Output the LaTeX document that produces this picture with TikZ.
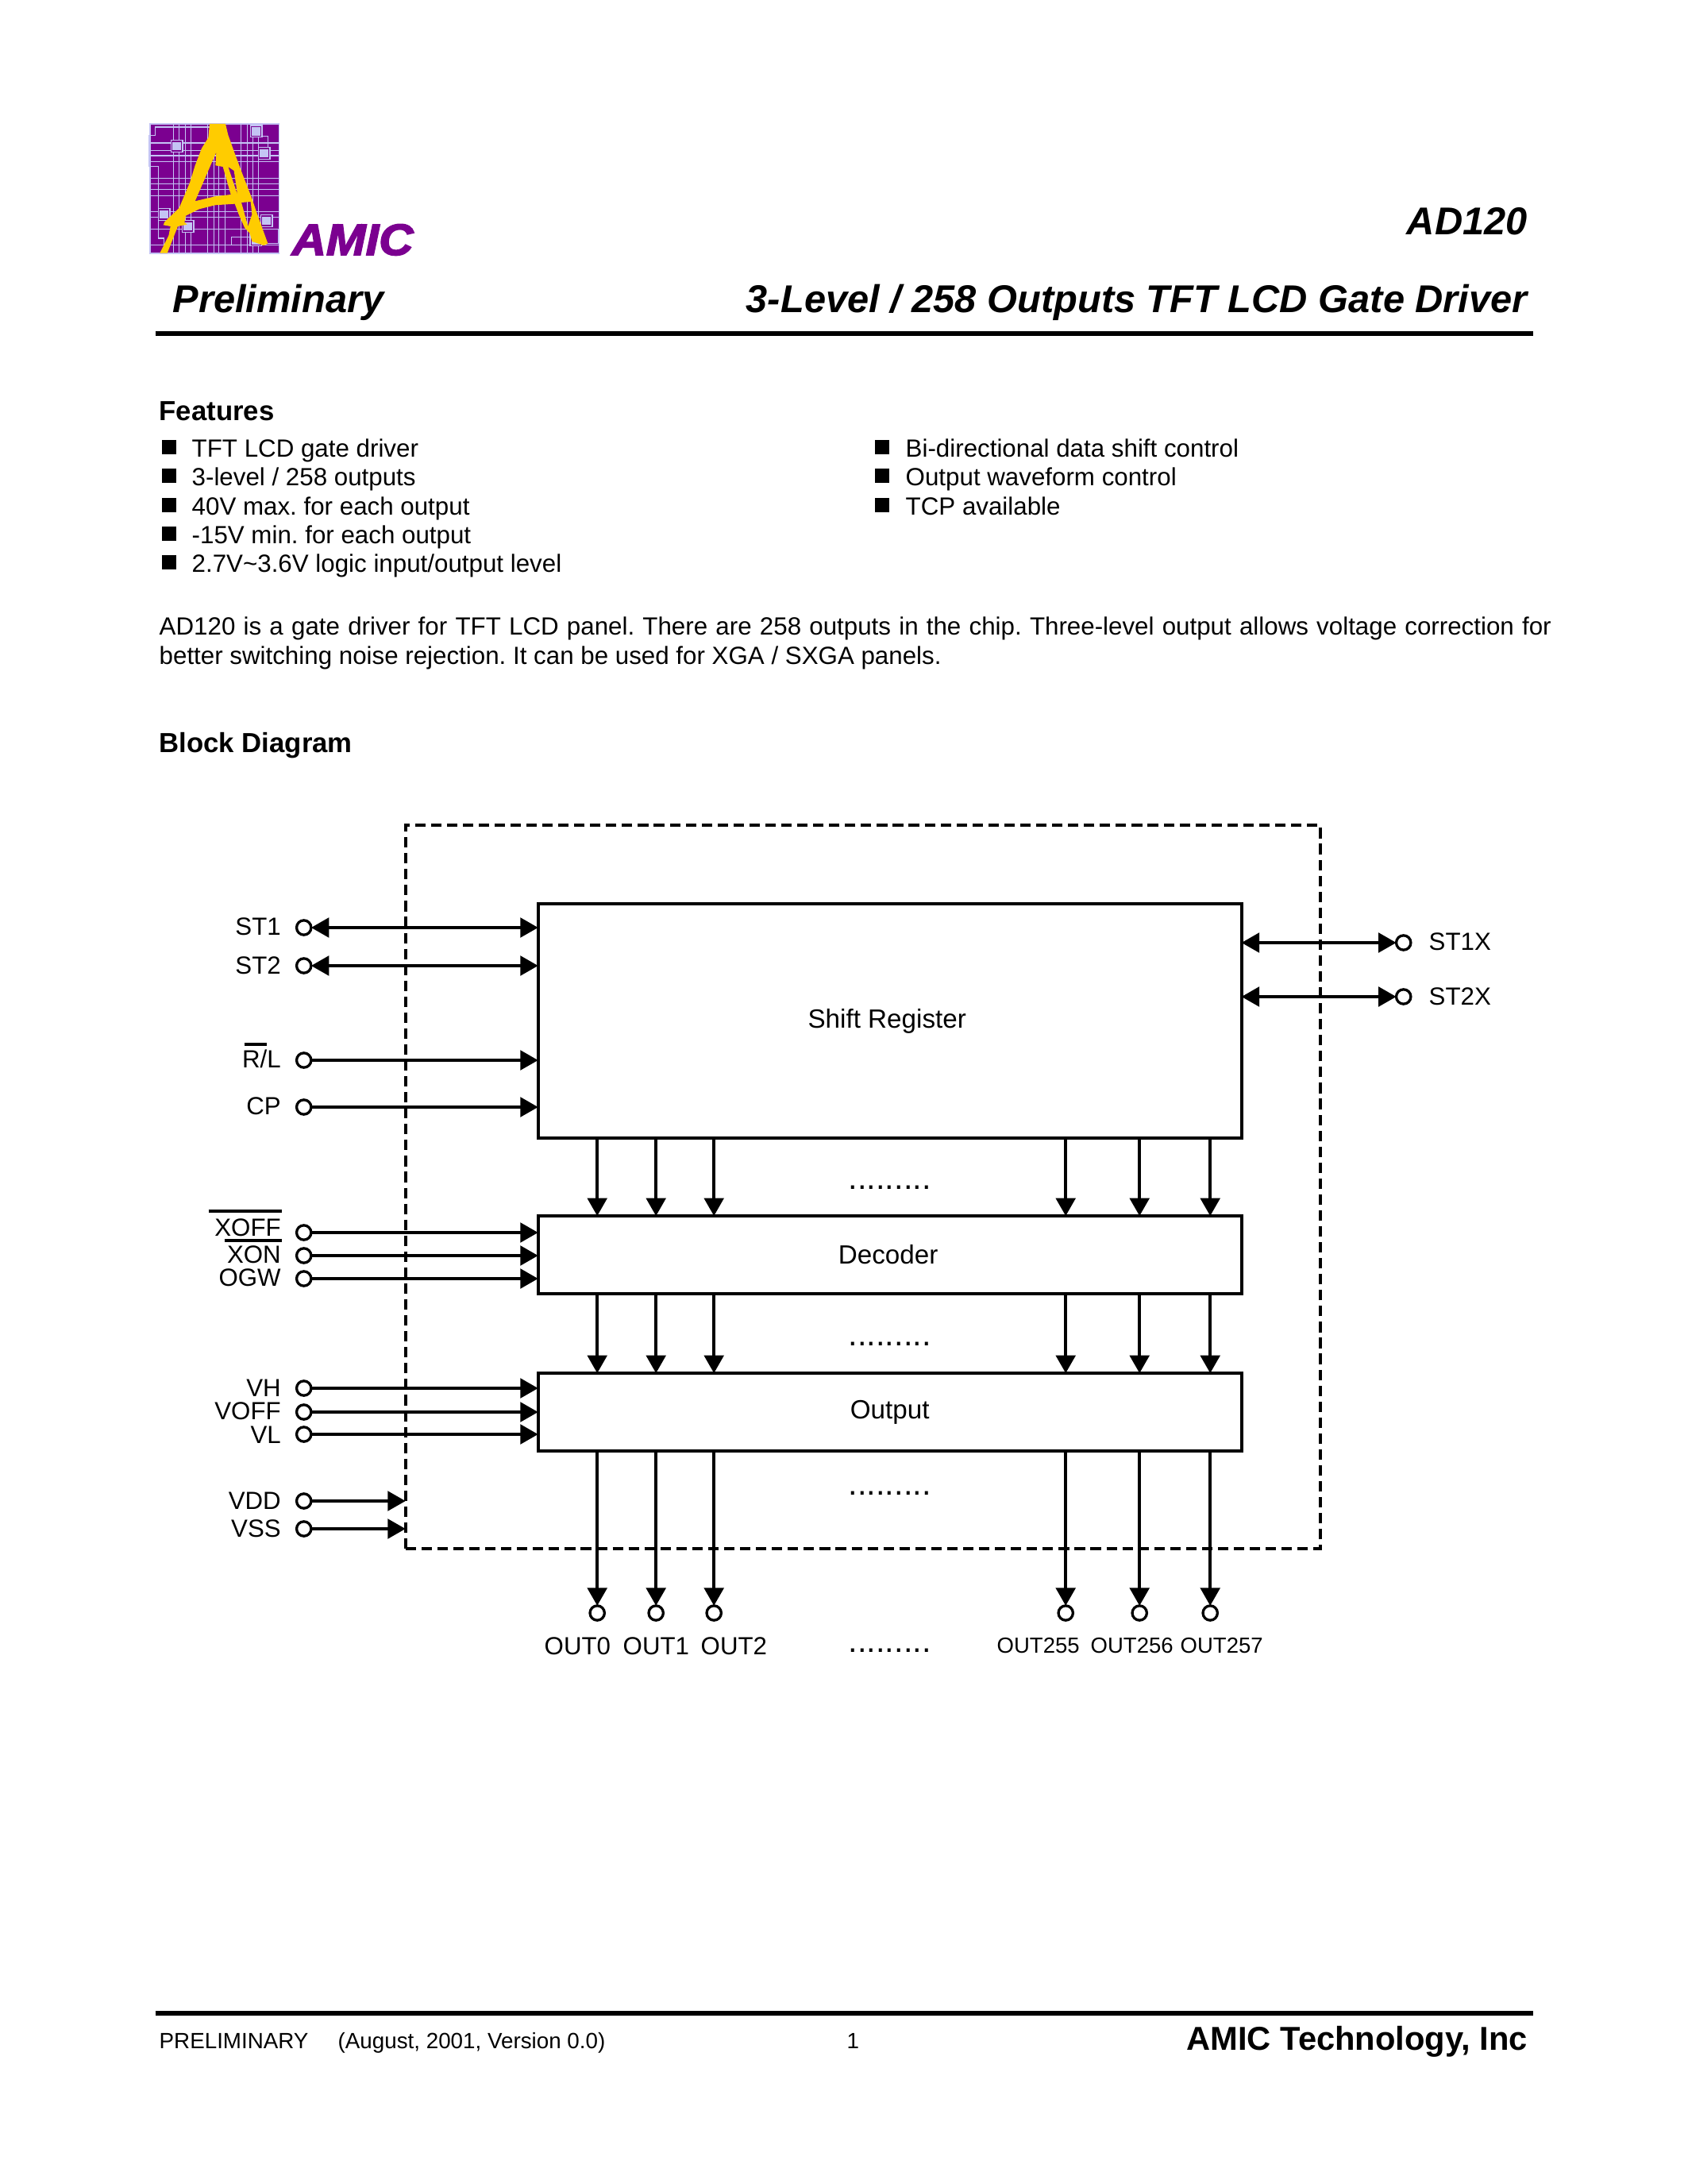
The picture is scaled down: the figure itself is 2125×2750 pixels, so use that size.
\documentclass[tikz,border=0pt]{standalone}
\usepackage{fontspec}
\setmainfont{Liberation Sans}
\newfontfamily\amicf{Liberation Sans}[BoldItalicFeatures={FakeBold=3,FakeStretch=1.08}]
\usetikzlibrary{arrows.meta}
\definecolor{amicp}{HTML}{7B0090}
\definecolor{amicl}{HTML}{C4C4F4}
\definecolor{amicy}{HTML}{FFCC00}
\newcommand{\fs}[1]{\fontsize{#1}{#1}\selectfont}
\frenchspacing
\tikzset{
  txt/.style={inner sep=0pt,outer sep=0pt},
  body/.style={txt,anchor=base west,font=\fs{9.05}},
  bodyb/.style={txt,anchor=base west,font=\fs{10.04}\bfseries},
  head/.style={txt,font=\fs{14.1}\bfseries\itshape},
  lab/.style={txt,anchor=base east,font=\fs{9.03}},
  labr/.style={txt,anchor=base west,font=\fs{9.03}},
  labs/.style={txt,anchor=base west,font=\fs{7.95}},
  dots/.style={txt,anchor=base,font=\fs{12}},
  bul/.style={fill=black,inner sep=0pt,minimum size=5.2pt,anchor=center},
  blockbox/.style={draw=black,line width=1.16pt,outer sep=0pt,inner sep=0pt,font=\fs{9.6},fill=white},
  chipbox/.style={draw=black,line width=1.16pt,outer sep=0pt,inner sep=0pt,dash pattern=on 3.8pt off 2pt},
  term/.style={circle,draw=black,fill=white,line width=0.95pt,minimum size=5.3pt,inner sep=0pt,outer sep=0pt},
  conn/.style={line width=1.1pt,-{Triangle[length=6.5pt,width=7.1pt]}},
  bidir/.style={line width=1.1pt,{Triangle[length=6.5pt,width=7.1pt]}-{Triangle[length=6.5pt,width=7.1pt]}},
  barline/.style={line width=1.16pt},
  rulel/.style={line width=1.74pt},
  wire/.style={amicl,line width=0.3pt},
}
\begin{document}
\begin{tikzpicture}[x=0.28908pt,y=-0.28908pt]
\fill[white] (-0.7,0) rectangle (2124.3,2750);
\useasboundingbox (-0.7,0) rectangle (2124.3,2750);
% logo
\begin{scope}[shift={(170,130)},x=0.09636pt,y=-0.09636pt]
\fill[amicp] (55,78) rectangle (542,566);
\foreach \v in {142,165,187,210,272,295,313,337,397,422,442,465}
  \draw[wire] (\v,78) -- (\v,566);
\foreach \h in {150,178,198,220,283,305,325,350,410,430,475,535}
  \draw[wire] (55,\h) -- (542,\h);
\draw[wire] (55,122) -- (75,122) -- (75,90) -- (280,90);
\draw[wire] (55,238) -- (85,238) -- (85,510) -- (107,510) -- (107,566);
\draw[wire] (300,535) -- (362,535) -- (362,505) -- (430,505);
\draw[wire] (465,125) -- (500,125) -- (500,170);
\draw[wire] (500,475) -- (540,475) -- (540,530) -- (500,530);
\draw[amicl,line width=0.5pt] (55,78) rectangle (542,566);
\fill[amicl] (50,120) rectangle (56,240);
\foreach \cx/\cy in {456/106,486/189,156/162,108/420,198/465,495/444,455/517}{
  \fill[amicl] (\cx-24,\cy-24) rectangle (\cx+24,\cy+24);
  \fill[amicp] (\cx-20,\cy-20) rectangle (\cx+20,\cy+20);
  \fill[amicl] (\cx-16,\cy-16) rectangle (\cx+16,\cy+16);
}
\fill[amicy,even odd rule] (92,566) -- (125,500) -- (132,465) -- (105,460) -- (110,448) -- (150,410) -- (165,395) -- (205,300) -- (225,235) -- (250,170) -- (275,130) -- (280,78) -- (340,78) -- (350,120) -- (375,190) -- (405,270) -- (440,360) -- (455,405) -- (500,530) -- (485,537) -- (440,522) -- (432,492) -- (412,470) -- (390,420) -- (375,380) -- (300,385) -- (240,400) -- (190,425) -- (185,450) -- (195,458) -- (160,465) -- (150,490) -- (120,566) -- cycle
 (305,185) -- (225,370) -- (300,352) -- (360,345) -- (330,240) -- (302,235) -- cycle
 (350,240) -- (385,345) -- (372,255) -- cycle
 (400,375) -- (425,465) -- (440,420) -- (435,372) -- cycle;
\end{scope}
\node[txt,anchor=base west,text=amicp,font=\fs{16}\amicf\bfseries\itshape] (amic) at (367,321) {AMIC};
% heading
\node[head,anchor=base east] (part) at (1923,296) {AD120};
\node[head,anchor=base west] (prelim) at (217,394) {Preliminary};
\node[head,anchor=base east] (title) at (1923,394) {3-Level / 258 Outputs TFT LCD Gate Driver};
\coordinate (r1a) at (195,420); \coordinate (r1b) at (1930,420);
\draw[rulel] (r1a) -- (r1b);
% features
\node[bodyb] (feat) at (200,530) {Features};
\foreach \n/\y/\t in {a/576/{TFT LCD gate driver},b/612/{3-level / 258 outputs},c/649/{40V max. for each output},d/685/{-15V min. for each output},e/721/{2.7V\textasciitilde3.6V logic input/output level}}{
  \node[bul] (bu\n) at (212,\y-13) {};
  \node[body] (fl\n) at (241,\y) {\t};
}
\foreach \n/\y/\t in {a/576/{Bi-directional data shift control},b/612/{Output waveform control},c/649/{TCP available}}{
  \node[bul] (bv\n) at (1110,\y-13) {};
  \node[body] (fr\n) at (1140,\y) {\t};
}
\node[body] (para1) at (200,800) {\hbox to 506.8pt{AD120 is a gate driver for TFT LCD panel. There are 258 outputs in the chip. Three-level output allows voltage correction for}};
\node[body] (para2) at (200,836) {better switching noise rejection. It can be used for XGA / SXGA panels.};
\node[bodyb] (bd) at (200,947) {Block Diagram};
% blocks
\node[chipbox,minimum width=333.0pt,minimum height=263.4pt] (chip) at (1086,1494.5) {};
\node[blockbox,minimum width=256.1pt,minimum height=85.3pt] (sr) at (1120,1285.5) {\raisebox{-0.4pt}{\kern-1pt Shift Register\kern 1pt}};
\node[blockbox,minimum width=256.1pt,minimum height=28.3pt] (dec) at (1120,1580) {\kern-0.6pt Decoder\kern 0.6pt};
\node[blockbox,minimum width=256.1pt,minimum height=28.3pt] (out) at (1120,1778) {\raisebox{-0.4pt}{Output}};
% left terminals and labels
\foreach \n/\y/\by/\t in {st1/1168/1177/ST1,st2/1216/1226/ST2,rl/1335/1344/{R/L},cp/1394/1403/CP,xoff/1552/1556/XOFF,xon/1581/1590/XON,ogw/1610/1619/OGW,vh/1748/1758/VH,voff/1778/1787/VOFF,vl/1806/1817/VL,vdd/1890/1900/VDD,vss/1925/1935/VSS}{
  \node[term] (t\n) at (382,\y) {};
  \node[lab] (l\n) at (353,\by) {\t};
}
\foreach \n in {rl,cp,xoff,xon,ogw}
  \draw[conn] (t\n) -- (t\n -| sr.west);
\foreach \n in {vh,voff,vl}
  \draw[conn] (t\n) -- (t\n -| out.west);
\foreach \n in {st1,st2}
  \draw[bidir] (t\n) -- (t\n -| sr.west);
\foreach \n in {vdd,vss}
  \draw[conn] (t\n) -- (t\n -| chip.west);
% bars
\coordinate (brl1) at (307,1315); \coordinate (brl2) at (335,1315);
\coordinate (bxf1) at (262,1525); \coordinate (bxf2) at (354,1525);
\coordinate (bxn1) at (282,1562); \coordinate (bxn2) at (354,1562);
\draw[barline] (brl1) -- (brl2);
\draw[barline] (bxf1) -- (bxf2);
\draw[barline] (bxn1) -- (bxn2);
% right terminals
\node[term] (tst1x) at (1767,1187) {};
\node[term] (tst2x) at (1767,1255) {};
\node[labr] (lst1x) at (1799,1196) {ST1X};
\node[labr] (lst2x) at (1799,1265) {ST2X};
\draw[bidir] (tst1x -| sr.east) -- (tst1x);
\draw[bidir] (tst2x -| sr.east) -- (tst2x);
% vertical connectors
\foreach \n/\x in {a/751.5,b/825.5,c/898.5,d/1341.5,e/1434.5,f/1523.5}{
  \node[term] (o\n) at (\x,2031) {};
  \draw[conn] (o\n |- sr.south) -- (o\n |- dec.north);
  \draw[conn] (o\n |- dec.south) -- (o\n |- out.north);
  \draw[conn] (o\n |- out.south) -- (o\n);
}
\node[labr] (lo0) at (685,2083) {OUT0};
\node[labr] (lo1) at (784,2083) {OUT1};
\node[labr] (lo2) at (882,2083) {OUT2};
\node[labs] (lo255) at (1255,2081) {OUT255};
\node[labs] (lo256) at (1373,2081) {OUT256};
\node[labs] (lo257) at (1486,2081) {OUT257};
\node[dots] (d1) at (1120,1497) {.........};
\node[dots] (d2) at (1120,1694) {.........};
\node[dots] (d3) at (1120,1882) {.........};
\node[dots] (d4) at (1120,2080) {.........};
% footer
\coordinate (r2a) at (195,2535); \coordinate (r2b) at (1930,2535);
\draw[rulel] (r2a) -- (r2b);
\node[txt,anchor=base west,font=\fs{8.03}] (f1) at (200,2579) {PRELIMINARY};
\node[txt,anchor=base west,font=\fs{8.03}] (f2) at (425,2579) {(August, 2001, Version 0.0)};
\node[txt,anchor=base west,font=\fs{8.03}] (f3) at (1066,2579) {1};
\node[txt,anchor=base east,font=\fs{12.05}\bfseries] (f4) at (1923,2581) {AMIC Technology, Inc};
\end{tikzpicture}
\end{document}
